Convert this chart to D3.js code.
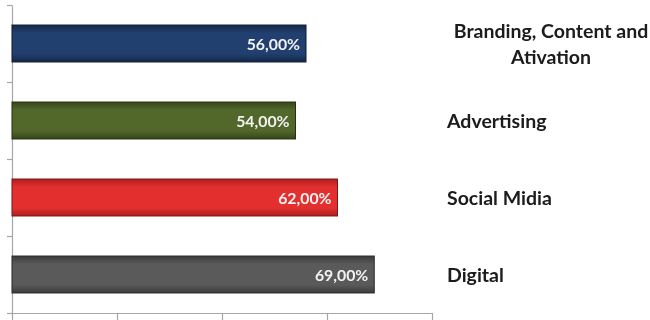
<!DOCTYPE html>
<html>
<head>
<meta charset="utf-8">
<script src="https://cdn.jsdelivr.net/npm/d3@7"></script>
<style>
  html, body { margin: 0; padding: 0; background: #fff; }
  svg { display: block; }
</style>
</head>
<body>
<svg id="chart" width="650" height="320"></svg>
<script>
// Categories, top to bottom, with their shares
const categories = ["Branding, Content and Ativation", "Advertising", "Social Midia", "Digital"];
const categoryLines = [["Branding, Content and", "Ativation"], ["Advertising"], ["Social Midia"], ["Digital"]];
const values = [0.56, 0.54, 0.62, 0.69];
const valueLabels = ["56,00%", "54,00%", "62,00%", "69,00%"];
const xTicks = [0, 0.2, 0.4, 0.6, 0.8];
const barColors = [
  { mid: "#21406f", edge: "#132848", stroke: "#0f1d33" },
  { mid: "#52672a", edge: "#36461a", stroke: "#26310f" },
  { mid: "#e3302f", edge: "#b01d1d", stroke: "#7e1414" },
  { mid: "#5a5a5a", edge: "#3b3b3b", stroke: "#2a2a2a" }
];

const svg = d3.select("#chart");
const plotLeft = 12, plotRight = 432, plotTop = 5, plotBottom = 313;

const x = d3.scaleLinear().domain([0, 0.8]).range([plotLeft, plotRight]);
const y = d3.scaleBand().domain(categories).range([plotTop, plotBottom])
  .paddingInner(0.52).paddingOuter(0.26);
const yEdges = d3.scaleLinear().domain([0, categories.length]).range([plotTop, plotBottom]);

// Gradients: darker at the top and bottom edges of each bar
const defs = svg.append("defs");
barColors.forEach((c, i) => {
  const g = defs.append("linearGradient").attr("id", "g" + i)
    .attr("x1", 0).attr("y1", 0).attr("x2", 0).attr("y2", 1);
  g.append("stop").attr("offset", "0%").attr("stop-color", c.edge);
  g.append("stop").attr("offset", "22%").attr("stop-color", c.mid);
  g.append("stop").attr("offset", "78%").attr("stop-color", c.mid);
  g.append("stop").attr("offset", "100%").attr("stop-color", c.edge);
});
const f = defs.append("filter").attr("id", "soft").attr("x", "-5%").attr("y", "-20%").attr("width", "110%").attr("height", "140%");
f.append("feGaussianBlur").attr("stdDeviation", 0.35);

// Axes
const axisColor = "#a6a6a6";
const gx = svg.append("g").attr("transform", `translate(0,${plotBottom})`)
  .call(d3.axisBottom(x).tickValues(xTicks).tickFormat("").tickSize(7).tickSizeOuter(0));
const gy = svg.append("g").attr("transform", `translate(${plotLeft},0)`)
  .call(d3.axisLeft(yEdges).ticks(categories.length).tickFormat("").tickSize(5).tickSizeOuter(0));
[gx, gy].forEach(g => {
  g.selectAll("path, line").attr("stroke", axisColor).attr("stroke-width", 1.2);
});

// Bars
svg.append("g").selectAll("rect").data(values).join("rect")
  .attr("x", x(0))
  .attr("y", (d, i) => y(categories[i]))
  .attr("width", d => x(d) - x(0))
  .attr("height", y.bandwidth())
  .attr("fill", (d, i) => `url(#g${i})`)
  .attr("stroke", (d, i) => barColors[i].stroke)
  .attr("stroke-width", 1);

// Value labels inside bar ends
svg.append("g").selectAll("text").data(values).join("text")
  .attr("x", d => x(d) - 6)
  .attr("y", (d, i) => y(categories[i]) + y.bandwidth() / 2 + 1)
  .attr("dy", "0.36em")
  .attr("text-anchor", "end")
  .attr("fill", "#f2f2f2")
  .attr("font-family", "Lato, 'Open Sans', sans-serif")
  .attr("font-weight", "bold")
  .attr("font-size", 15.8)
  .attr("filter", "url(#soft)")
  .text((d, i) => valueLabels[i]);

// Category names on the right
const labels = svg.append("g")
  .attr("font-family", "Lato, 'Open Sans', sans-serif")
  .attr("font-weight", "bold")
  .attr("font-size", 19.5)
  .attr("fill", "#1a1a1a");
categoryLines.forEach((lines, i) => {
  const cy = y(categories[i]) + y.bandwidth() / 2;
  const multi = lines.length > 1;
  const lx = multi ? 551 : 447;
  const t = labels.append("text")
    .attr("x", lx)
    .attr("y", cy - (lines.length - 1) * 13)
    .attr("text-anchor", multi ? "middle" : "start")
    .attr("filter", "url(#soft)");
  lines.forEach((s, k) => {
    t.append("tspan")
      .attr("x", lx)
      .attr("dy", k === 0 ? "0.36em" : 26)
      .text(s);
  });
});
</script>
</body>
</html>
